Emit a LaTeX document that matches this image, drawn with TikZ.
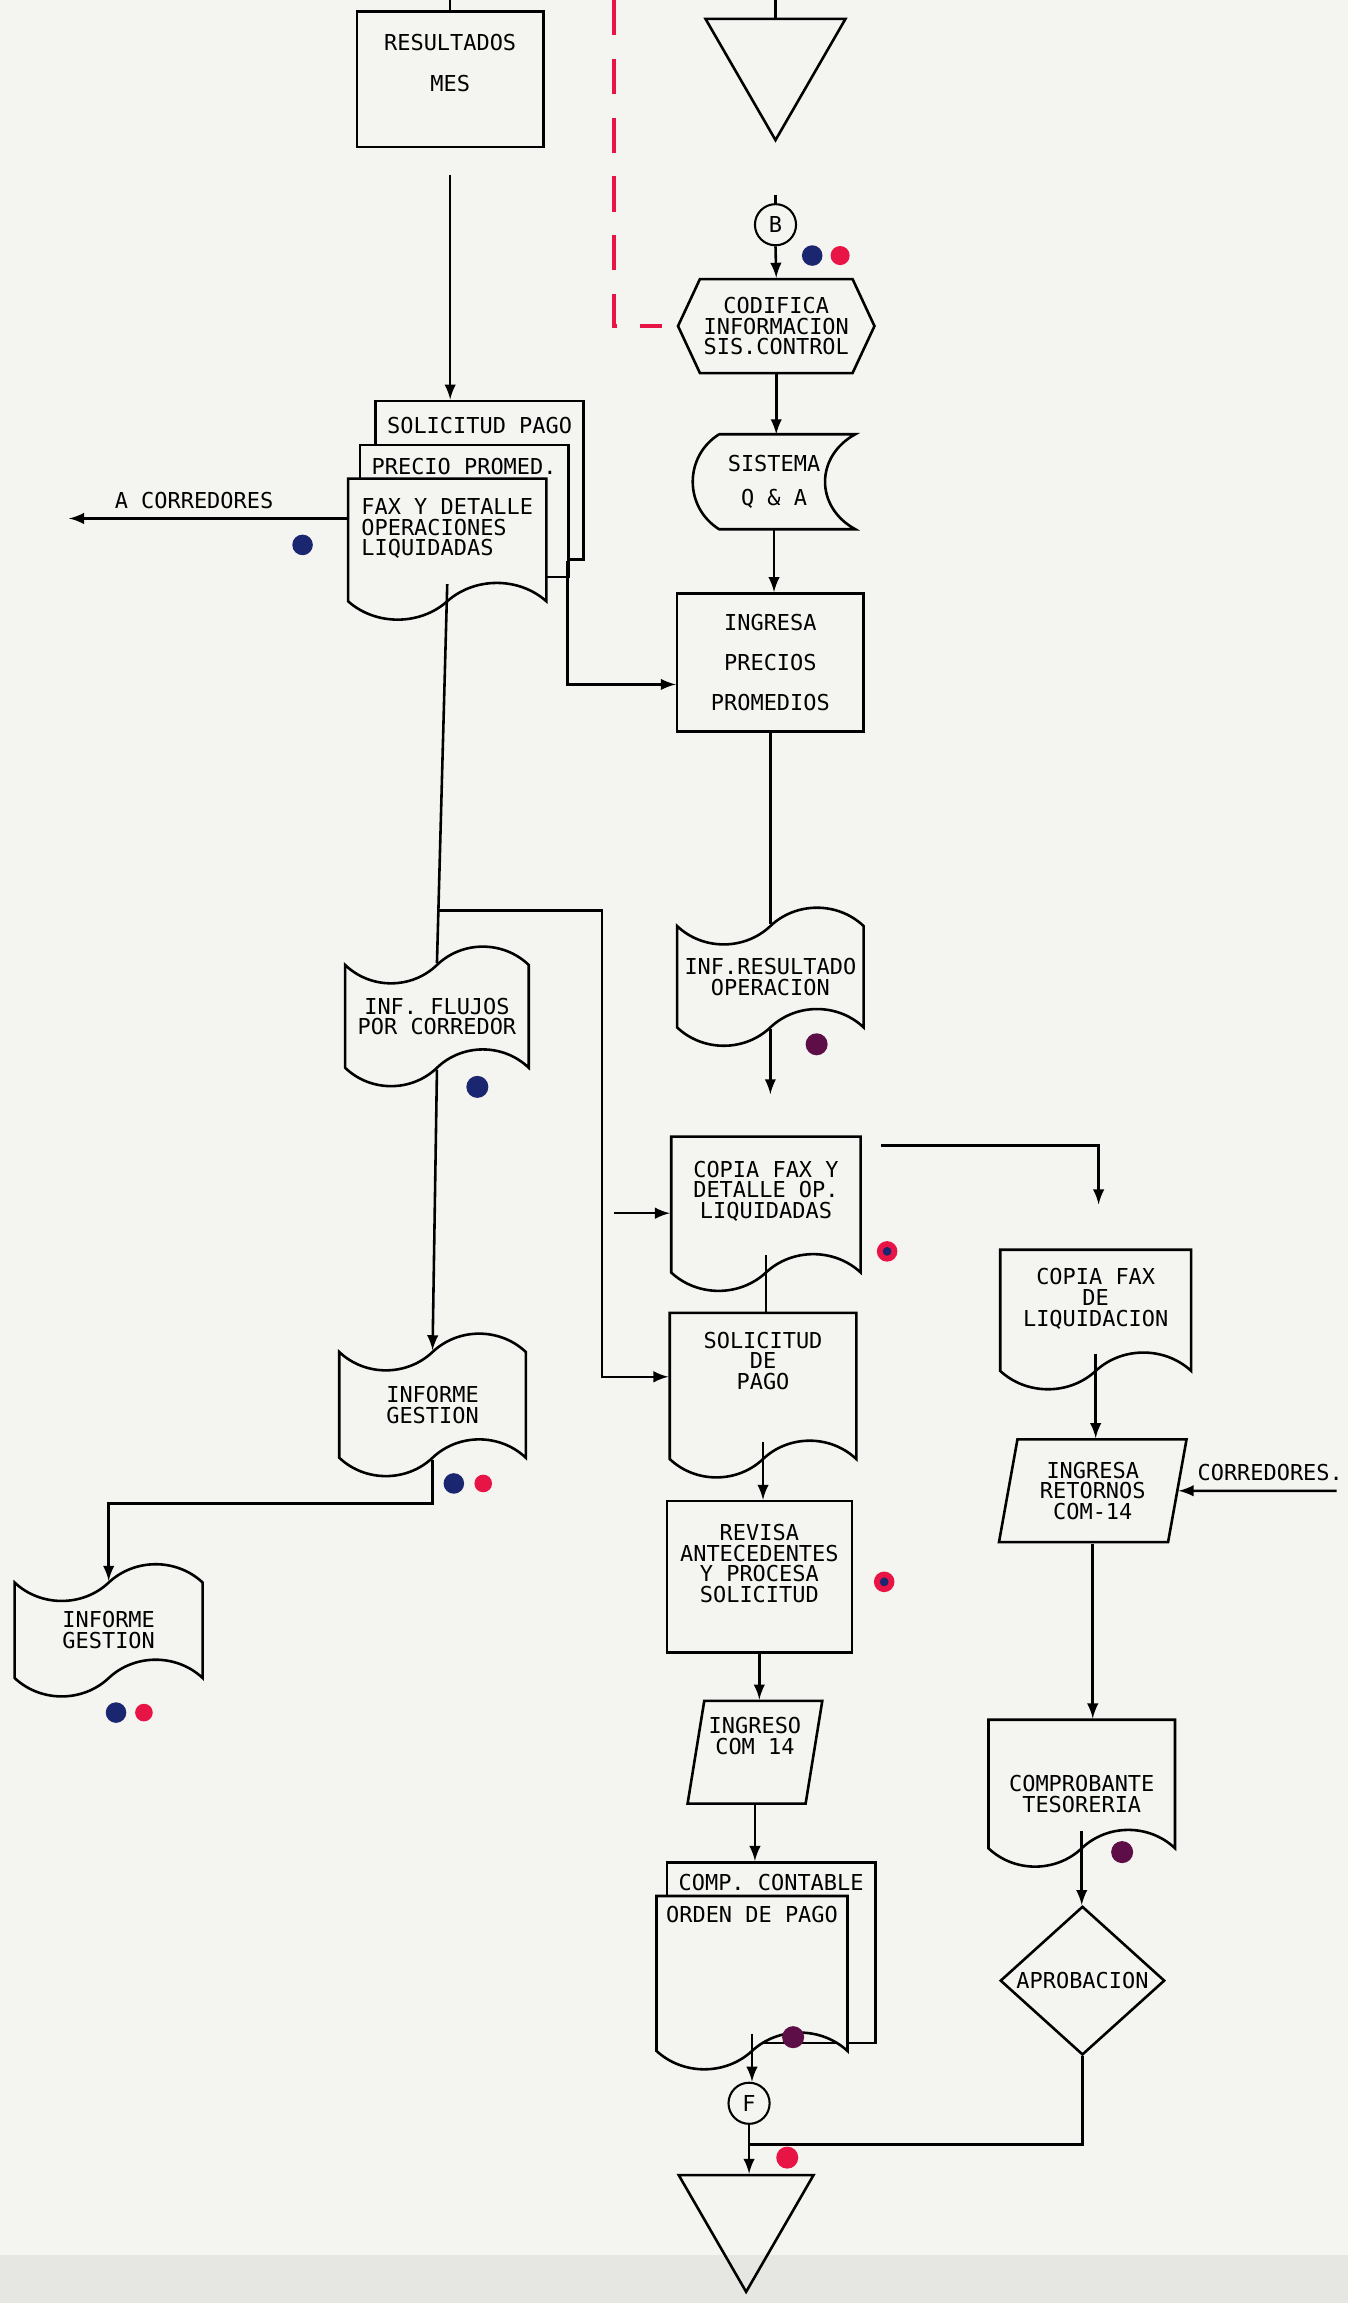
\documentclass[tikz,border=0pt]{standalone}
\usepackage{fontspec}
\setmainfont{DejaVu Sans Mono}
\usetikzlibrary{shapes.geometric,shapes.symbols}
\definecolor{papel}{RGB}{244,244,240}
\definecolor{azul}{RGB}{27,38,112}
\definecolor{rojo}{RGB}{233,20,70}
\definecolor{morado}{RGB}{94,14,70}

\begin{document}
\begin{tikzpicture}[x=0.2mm,y=-0.2mm]
    \tikzstyle{every node}=[font=\fontsize{8.5}{8}\selectfont]
    \tikzstyle{caja}=[rectangle,draw,line width=1pt,fill=papel,align=center,inner sep=0.1cm]
    \tikzstyle{hoja}=[rectangle,draw,line width=1pt,fill=papel,anchor=north,inner sep=0.16cm,text height=0.22cm]
    \tikzstyle{doc}=[tape,tape bend top=none,tape bend height=0.5cm,draw,line width=1pt,fill=papel,align=center,inner sep=0.08cm,anchor=north]
    \tikzstyle{cinta}=[tape,tape bend height=0.5cm,draw,line width=1pt,fill=papel,align=center,inner sep=0.08cm]
    \tikzstyle{paral}=[trapezium,trapezium left angle=78,trapezium right angle=102,trapezium stretches=true,draw,line width=1pt,align=center,inner sep=0.05cm]
    \tikzstyle{rombo}=[diamond,draw,line width=1pt,inner sep=0pt]
    \tikzstyle{triang}=[regular polygon,regular polygon sides=3,shape border rotate=180,draw,line width=1pt,inner sep=0pt,anchor=north]
    \tikzstyle{conector}=[circle,draw,line width=0.8pt,minimum size=0.56cm,inner sep=0pt]
    \tikzstyle{linea}=[line width=1pt]
    \tikzstyle{link}=[->,>=latex,line width=1pt]
    \tikzstyle{rayaroja}=[draw=rojo,line width=1.6pt,dash pattern=on 0.48cm off 0.32cm]

    \useasboundingbox (0,0) rectangle (918,1568);
    \fill[papel] (0,0) rectangle (918,1568);
    \fill[papel!88!gray] (0,1535) rectangle (918,1568);

    % columna izquierda
    \node[caja,minimum width=2.54cm,minimum height=1.84cm,text depth=0.45cm] (res) at (306.5,54) {RESULTADOS\\[8pt]MES};
    \coordinate (resin) at (306.5,0);
    \draw[linea] (resin) -- (res.north);

    \node[hoja,minimum width=2.74cm,inner ysep=0.22cm,text depth=1.5cm] (solpago) at (326.5,272) {SOLICITUD PAGO};
    \node[hoja,minimum width=2.76cm,inner ysep=0.19cm,text depth=1.2cm] (precio) at (316,302) {PRECIO PROMED.};
    \node[doc,minimum width=2.7cm,minimum height=1.92cm,text depth=0.1cm,align=left] (faxdet) at (304.5,325) {FAX Y DETALLE\\OPERACIONES\\LIQUIDADAS};
    \draw[link,shorten <=0.36cm] (res.south) -- (res.south |- solpago.north);

    \coordinate (acorr) at (47,353);
    \draw[link] (acorr -| faxdet.west) -- node[above,pos=0.55] (lblacorr) {A CORREDORES} (acorr);
    \fill[azul] (206,371) circle (0.14cm);

    \node[cinta,minimum width=2.5cm,minimum height=1.9cm] (fluj) at (297.5,692) {INF. FLUJOS\\POR CORREDOR};
    \draw[linea] (faxdet.south) -- (fluj.north);
    \fill[azul] (325,740) circle (0.15cm);

    \node[cinta,minimum width=2.54cm,minimum height=1.94cm] (gest1) at (294.5,956.5) {INFORME\\GESTION};
    \draw[link] (fluj.south) -- (gest1.north);
    \fill[azul] (309,1010) circle (0.14cm);
    \fill[rojo] (329,1010) circle (0.12cm);

    \node[cinta,minimum width=2.56cm,minimum height=1.8cm] (gest2) at (74,1110) {INFORME\\GESTION};
    \draw[link] (gest1.south) -- ++(0,-0.6cm) -| (gest2.north);
    \fill[azul] (79,1166) circle (0.14cm);
    \fill[rojo] (98,1166) circle (0.12cm);

    % columna central
    \coordinate (rojoini) at (418,0);
    \node[triang,minimum size=2.2cm] (tri1) at (528,12) {};
    \coordinate (tri1in) at (528,0);
    \draw[linea] (tri1in) -- (tri1.north);

    \node[conector] (conB) at (528,153) {B};
    \coordinate (conBin) at (528,133);
    \draw[linea] (conBin) -- (conB.north);
    \fill[azul] (553,174) circle (0.14cm);
    \fill[rojo] (572,174) circle (0.13cm);

    \node[signal,signal to=east and west,signal pointer angle=130,draw,line width=1pt,minimum width=2.54cm,minimum height=1.28cm,align=center,inner sep=0.05cm] (codif) at (528.5,222) {CODIFICA\\INFORMACION\\SIS.CONTROL};
    \draw[link] (conB.south) -- (codif.north);
    \draw[rayaroja,shorten >=0.2cm] (rojoini) |- (codif.west);

    \node[minimum width=2.2cm,minimum height=1.28cm,align=center,inner sep=0pt] (qa) at (527,328) {SISTEMA\\[5pt]Q \& A};
    \draw[linea] ([xshift=0.36cm]qa.north west) -- (qa.north east)
        .. controls +(-0.55cm,-0.3cm) and +(-0.55cm,0.3cm) .. (qa.south east)
        -- ([xshift=0.36cm]qa.south west)
        .. controls +(-0.48cm,0.3cm) and +(-0.48cm,-0.3cm) .. ([xshift=0.36cm]qa.north west);
    \draw[link] (codif.south) -- (codif.south |- qa.north);

    \node[caja,minimum width=2.54cm,minimum height=1.88cm] (ingpre) at (524.5,451) {INGRESA\\[7.5pt]PRECIOS\\[7.5pt]PROMEDIOS};
    \draw[link] (qa.south) -- (qa.south |- ingpre.north);
    \draw[link] ([xshift=-0.24cm]solpago.south east) |- ([yshift=-0.3cm]ingpre.west);

    \node[cinta,minimum width=2.54cm,minimum height=1.88cm] (infres) at (524.5,665) {INF.RESULTADO\\OPERACION};
    \draw[linea] (ingpre.south) -- (ingpre.south |- infres.north);
    \coordinate (infresout) at (524.5,745);
    \draw[link] (infres.south) -- (infresout);
    \fill[morado] (556,711) circle (0.15cm);

    \node[doc,minimum width=2.58cm,minimum height=2.1cm,text depth=0.16cm] (copfax) at (521.5,773) {COPIA FAX Y\\DETALLE OP.\\LIQUIDADAS};
    \fill[rojo] (604,852) circle (0.14cm);
    \fill[azul] (604,852) circle (0.06cm);

    \node[doc,minimum width=2.54cm,minimum height=2.24cm,text depth=0.44cm] (solpg) at (519.5,893) {SOLICITUD\\DE\\PAGO};
    \draw[linea] (copfax.south) -- (copfax.south |- solpg.north);

    \coordinate (div1) at (298.5,620);
    \coordinate (bus1) at (410,620);
    \draw[link] (div1) -- (bus1) |- (solpg.west);
    \coordinate (tap1) at (418,826);
    \draw[link] (tap1) -- (tap1 -| copfax.west);

    \node[caja,minimum width=2.52cm,minimum height=2.06cm,text depth=0.36cm] (rev) at (517,1073.5) {REVISA\\ANTECEDENTES\\Y PROCESA\\SOLICITUD};
    \draw[link] (solpg.south) -- (solpg.south |- rev.north);
    \fill[rojo] (602,1077) circle (0.14cm);
    \fill[azul] (602,1077) circle (0.06cm);

    \node[paral,minimum width=1.84cm,minimum height=1.4cm,text depth=0.45cm] (ingcom) at (514,1193) {INGRESO\\COM 14};
    \draw[link] (rev.south) -- (rev.south |- ingcom.north);

    \node[hoja,minimum width=2.52cm,text depth=1.92cm] (comp) at (525,1267) {COMP. CONTABLE};
    \node[doc,minimum width=2.6cm,minimum height=2.36cm,text depth=1.36cm] (orden) at (512,1290) {ORDEN DE PAGO};
    \draw[link] (ingcom.south) -- (ingcom.south |- comp.north);
    \fill[morado] (540,1387) circle (0.15cm);

    \node[conector] (conF) at (510,1432) {F};
    \draw[link] (orden.south) -- (orden.south |- conF.north);
    \node[triang,minimum size=2.12cm] (tri2) at (508,1480) {};
    \coordinate (junta) at (510,1460);
    \draw[link] (conF.south) -- (conF.south |- tri2.north);
    \fill[rojo] (536,1469) circle (0.15cm);

    % columna derecha
    \coordinate (cfsal) at (600,780);
    \coordinate (cfllega) at (748,820);
    \draw[link] (cfsal) -| (cfllega);

    \node[doc,minimum width=2.6cm,minimum height=1.9cm,text depth=0.1cm] (coplq) at (746,850) {COPIA FAX\\DE\\LIQUIDACION};
    \node[paral,minimum width=2.56cm,minimum height=1.4cm] (ingret) at (744,1015) {INGRESA\\RETORNOS\\COM-14};
    \draw[link] (coplq.south) -- (coplq.south |- ingret.north);
    \coordinate (corr2) at (910,1015);
    \draw[link] (corr2) -- node[above,pos=0.42] (lblcorr2) {CORREDORES.} (ingret.east);

    \node[doc,minimum width=2.54cm,minimum height=2cm] (compt) at (736.5,1170) {\rule{0pt}{0.74cm}COMPROBANTE\\TESORERIA};
    \draw[link] (ingret.south) -- (ingret.south |- compt.north);
    \fill[morado] (764,1261) circle (0.15cm);

    \node[rombo,minimum width=2.24cm,minimum height=1.86cm] (aprob) at (737,1348.5) {APROBACION};
    \draw[link] (compt.south) -- (compt.south |- aprob.north);
    \draw[linea] (aprob.south) |- (junta);
\end{tikzpicture}
\end{document}
